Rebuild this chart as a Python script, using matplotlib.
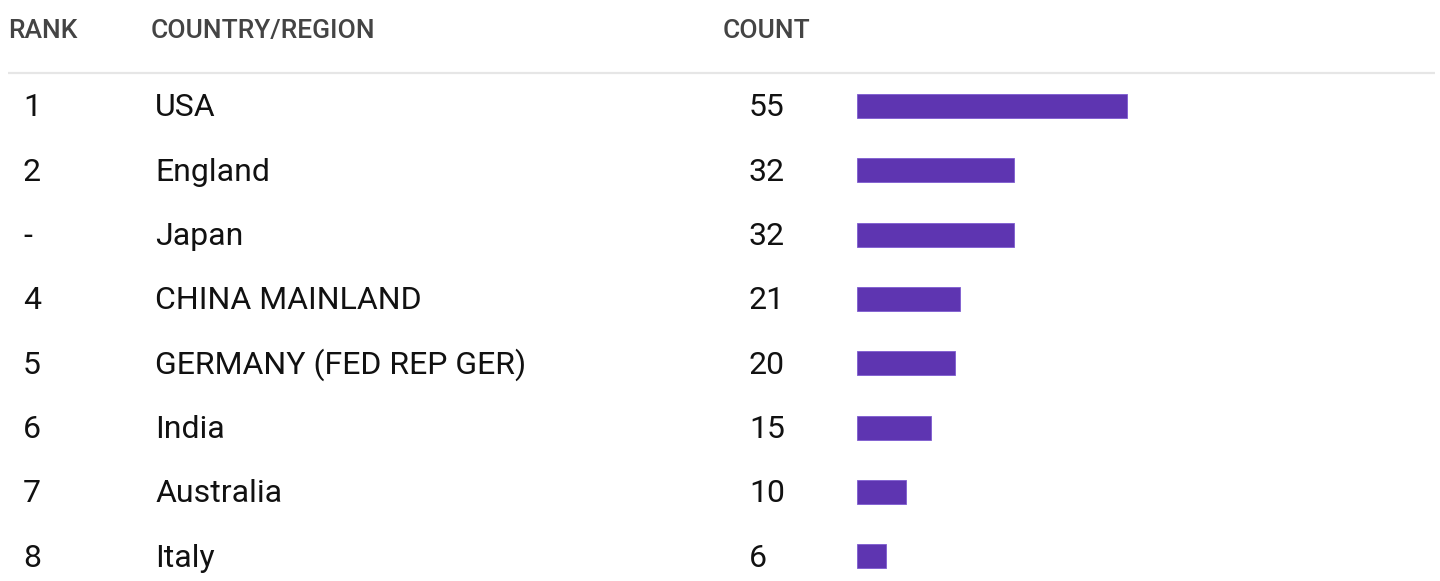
import matplotlib.pyplot as plt

plt.rcParams['font.family'] = ['Roboto', 'DejaVu Sans']

ranks = ["1", "2", "-", "4", "5", "6", "7", "8"]
countries = ["USA", "England", "Japan", "CHINA MAINLAND", "GERMANY (FED REP GER)",
             "India", "Australia", "Italy"]
counts = [55, 32, 32, 21, 20, 15, 10, 6]
headers = ["RANK", "COUNTRY/REGION", "COUNT"]

W, H = 1440, 581
fig = plt.figure(figsize=(W / 100, H / 100), dpi=100)
ax = fig.add_axes([0, 0, 1, 1])
ax.set_xlim(0, W)
ax.set_ylim(H, 0)
ax.axis("off")

# layout in pixels
row0, row_step = 106, 64.3
bar_left, px_per_unit, bar_h = 857, 4.9, 24
header_y = 31

for x, label in zip([8, 151, 723], headers):
    ax.text(x, header_y, label, fontsize=19, fontweight='medium', color="#444444",
            va="center", ha="left")
ax.plot([8, 1435], [73, 73], color="#e6e6e6", lw=1.6, solid_capstyle="butt")

row_y = [row0 + i * row_step for i in range(len(counts))]
for y, r, c, n in zip(row_y, ranks, countries, counts):
    ty = y + 2
    ax.text(23, ty, r, fontsize=23, color="#111111", va="center", ha="left")
    ax.text(155, ty, c, fontsize=23, color="#111111", va="center", ha="left")
    ax.text(749, ty, str(n), fontsize=23, color="#111111", va="center", ha="left")

ax.barh(row_y, [n * px_per_unit for n in counts], left=bar_left, height=bar_h,
        color="#5E35B1", edgecolor="#7e5bd0", linewidth=0.6)

fig.savefig("out.png", dpi=100)
